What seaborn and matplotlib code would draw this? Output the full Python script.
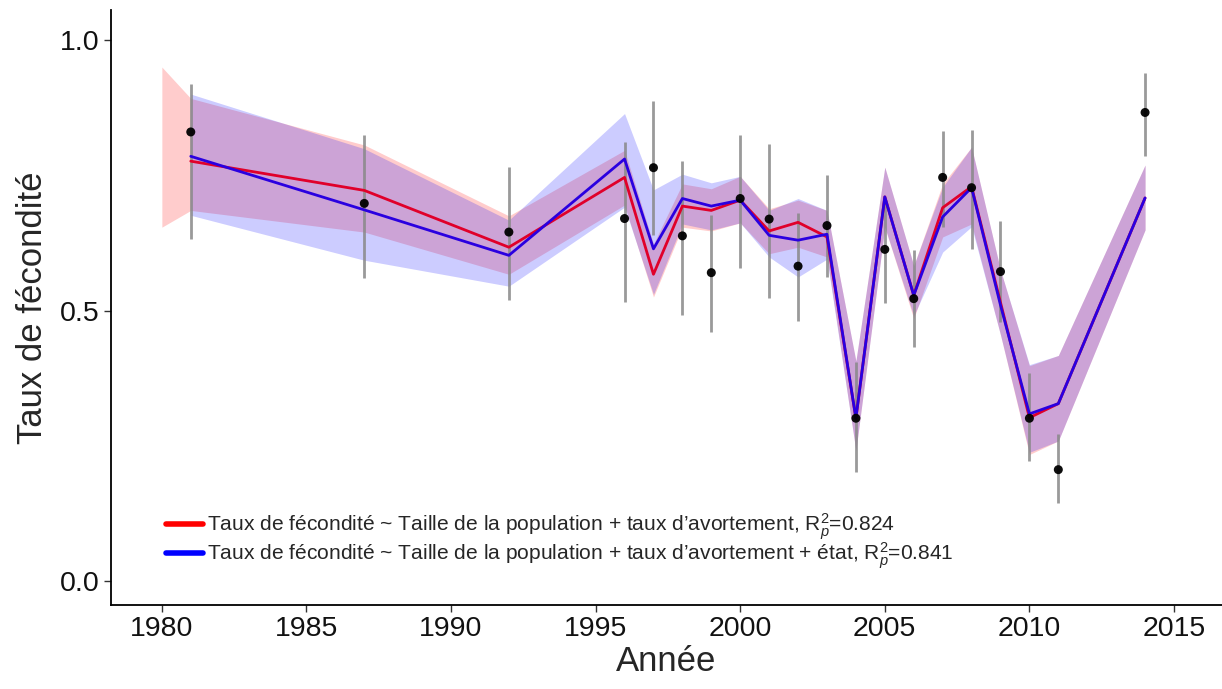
import matplotlib.pyplot as plt
import numpy as np
import pandas as pd
import seaborn as sns

# observed fertility rate with error bars
years = [1981, 1987, 1992, 1996, 1997, 1998, 1999, 2000, 2001, 2002,
         2003, 2004, 2005, 2006, 2007, 2008, 2009, 2010, 2011, 2014]
obs = [0.830, 0.698, 0.645, 0.670, 0.764, 0.638, 0.570, 0.707, 0.669, 0.582,
       0.657, 0.301, 0.613, 0.522, 0.746, 0.727, 0.572, 0.301, 0.206, 0.866]
obs_lo = [0.633, 0.560, 0.519, 0.515, 0.640, 0.491, 0.460, 0.579, 0.523, 0.480,
          0.562, 0.202, 0.514, 0.432, 0.654, 0.614, 0.478, 0.222, 0.144, 0.786]
obs_hi = [0.918, 0.825, 0.766, 0.812, 0.887, 0.776, 0.676, 0.824, 0.807, 0.681,
          0.751, 0.404, 0.700, 0.611, 0.832, 0.834, 0.665, 0.384, 0.272, 0.939]

# model 1 (population + abortion)
red_fit = [0.776, 0.722, 0.617, 0.746, 0.567, 0.693, 0.685, 0.704, 0.647, 0.663,
           0.636, 0.301, 0.710, 0.528, 0.690, 0.729, 0.515, 0.302, 0.328, 0.708]
red_band_years = [1980] + years
red_lo = [0.654, 0.685, 0.645, 0.567, 0.695, 0.525, 0.654, 0.647, 0.662, 0.605, 0.617,
          0.599, 0.241, 0.654, 0.485, 0.636, 0.660, 0.455, 0.234, 0.259, 0.649]
red_hi = [0.950, 0.892, 0.806, 0.675, 0.796, 0.623, 0.734, 0.725, 0.748, 0.688, 0.704,
          0.685, 0.407, 0.765, 0.583, 0.734, 0.802, 0.575, 0.398, 0.417, 0.769]

# model 2 (population + abortion + state)
blue_fit = [0.785, 0.686, 0.602, 0.780, 0.614, 0.707, 0.693, 0.704, 0.639, 0.630,
            0.641, 0.301, 0.710, 0.528, 0.673, 0.727, 0.510, 0.309, 0.328, 0.708]
blue_lo = [0.676, 0.593, 0.545, 0.691, 0.530, 0.660, 0.649, 0.662, 0.599, 0.562,
           0.595, 0.241, 0.654, 0.490, 0.608, 0.655, 0.455, 0.238, 0.259, 0.649]
blue_hi = [0.900, 0.799, 0.667, 0.864, 0.723, 0.752, 0.736, 0.748, 0.685, 0.707,
           0.685, 0.407, 0.765, 0.583, 0.728, 0.802, 0.575, 0.400, 0.417, 0.769]

labels = [
    "Taux de fécondité ~ Taille de la population + taux d\u2019avortement, R$_{p}^{2}$=0.824",
    "Taux de fécondité ~ Taille de la population + taux d\u2019avortement + état, R$_{p}^{2}$=0.841",
]

sns.set_style("ticks")
plt.rcParams['font.family'] = ['Liberation Sans', 'DejaVu Sans']
plt.rcParams['mathtext.fontset'] = 'custom'
plt.rcParams['mathtext.rm'] = 'Liberation Sans'
plt.rcParams['mathtext.it'] = 'Liberation Sans:italic'

fig = plt.figure(figsize=(12.22, 6.89), dpi=100)
ax = fig.add_axes([0.0908, 0.122, 0.9092, 0.864])

ax.fill_between(red_band_years, red_lo, red_hi, color="red", alpha=0.2, lw=0)
ax.fill_between(years, blue_lo, blue_hi, color="blue", alpha=0.2, lw=0)

ax.vlines(years, obs_lo, obs_hi, color="#888888", lw=2, alpha=0.85, zorder=2)

fits = pd.DataFrame({
    "year": years * 2,
    "fit": red_fit + blue_fit,
    "model": [labels[0]] * len(years) + [labels[1]] * len(years),
})
sns.lineplot(data=fits, x="year", y="fit", hue="model",
             palette=["#E0002A", "#2A00E0"], lw=2, ax=ax, legend=False, zorder=3)
sns.scatterplot(x=years, y=obs, color="black", s=42, edgecolor="none",
                ax=ax, zorder=4, alpha=0.95)

ax.set_xlim(1978.24, 2016.66)
ax.set_ylim(-0.044, 1.056)
ax.set_xticks([1980, 1985, 1990, 1995, 2000, 2005, 2010, 2015])
ax.set_yticks([0.0, 0.5, 1.0])
ax.set_yticklabels(["0.0", "0.5", "1.0"])
ax.tick_params(labelsize=20.5, length=5, width=1, pad=3, colors="#333333", labelcolor="#111111")
ax.set_xlabel("Année", fontsize=25, labelpad=2)
ax.set_ylabel("Taux de fécondité", fontsize=25, labelpad=8)
for s in ["top", "right"]:
    ax.spines[s].set_visible(False)
for s in ["left", "bottom"]:
    ax.spines[s].set_linewidth(1.3)
    ax.spines[s].set_color("black")

handles = [plt.Line2D([], [], color="red", lw=4),
           plt.Line2D([], [], color="blue", lw=4)]
ax.legend(handles, labels, loc="lower left", bbox_to_anchor=(0.033, 0.025),
          frameon=False, fontsize=15.1, handlelength=1.75, handletextpad=0.2,
          labelspacing=-0.05)

plt.savefig("out.png", dpi=100)
